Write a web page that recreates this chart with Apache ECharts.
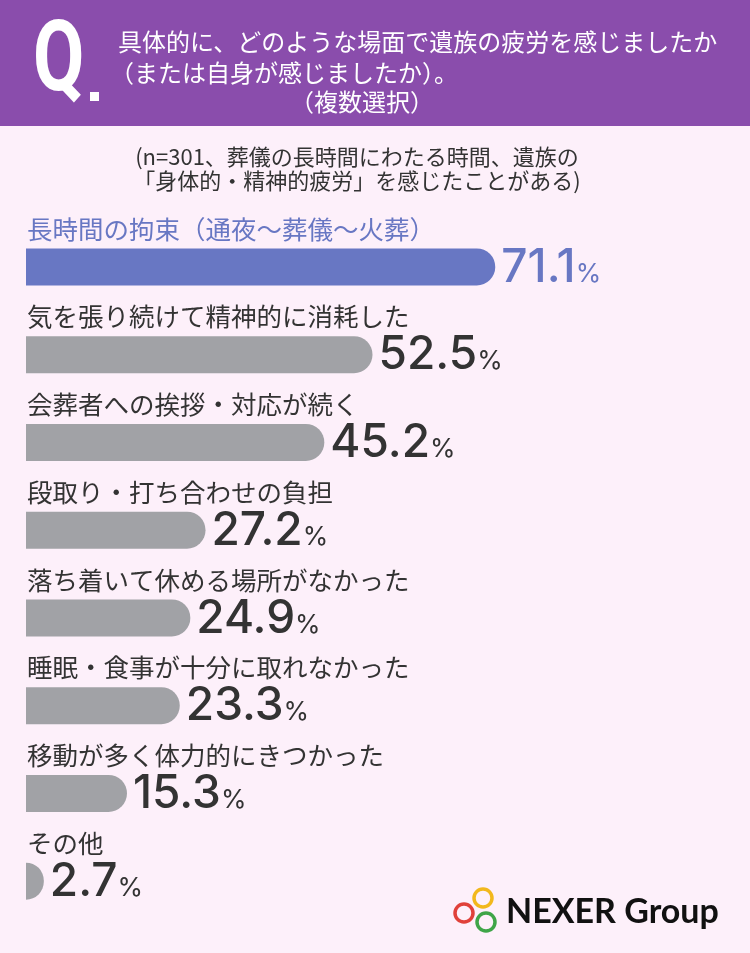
<!DOCTYPE html>
<html><head><meta charset="utf-8">
<script src="https://cdn.jsdelivr.net/npm/echarts@6/dist/echarts.min.js"></script>
<style>html,body{margin:0;padding:0;background:#FDF0FA}#c{width:750px;height:953px}</style>
</head><body><div id="c"></div>
<script>
const categories = [
  '長時間の拘束（通夜～葬儀～火葬）',
  '気を張り続けて精神的に消耗した',
  '会葬者への挨拶・対応が続く',
  '段取り・打ち合わせの負担',
  '落ち着いて休める場所がなかった',
  '睡眠・食事が十分に取れなかった',
  '移動が多く体力的にきつかった',
  'その他'
];
const values = [71.1, 52.5, 45.2, 27.2, 24.9, 23.3, 15.3, 2.7];
const titleLines = ['具体的に、どのような場面で遺族の疲労を感じましたか', '（または自身が感じましたか）。', '（複数選択）'];
const subtitleLines = ['(n=301、葬儀の長時間にわたる時間、遺族の', '「身体的・精神的疲労」を感じたことがある)'];

const BLUE = '#6877C3', GRAY = '#A1A2A6', DARK = '#333333';
const JP = '"Noto Sans CJK JP", sans-serif';
const NUM = 'Inter, Lato, sans-serif';

function numRich(color) {
  return {
    n: {fontFamily: NUM, fontWeight: 500, fontSize: 46, color: color, verticalAlign: 'bottom', lineHeight: 48},
    p: {fontFamily: NUM, fontWeight: 400, fontSize: 26, color: color, verticalAlign: 'bottom', lineHeight: 44, padding: [0, 0, 4, 0]}
  };
}

const chart = echarts.init(document.getElementById('c'), null, {renderer: 'canvas'});
chart.setOption({
  backgroundColor: '#FDF0FA',
  animation: false,
  grid: {left: 26, width: 660, top: 223, height: 702},
  xAxis: {type: 'value', min: 0, max: 100, show: false},
  yAxis: {type: 'category', inverse: true, data: categories, show: false},
  series: [
    {
      type: 'bar', z: 1, silent: true, barWidth: 37, barGap: '-100%',
      data: values.map((v, i) => ({value: v, label: {color: i === 0 ? BLUE : DARK}})),
      itemStyle: {color: 'rgba(0,0,0,0)'},
      label: {
        show: true, position: [1, -19.5], align: 'left', verticalAlign: 'middle',
        fontFamily: JP, fontSize: 25.5,
        formatter: p => p.name
      },
      labelLayout: {hideOverlap: false}
    },
    {
      type: 'bar', z: 2, barWidth: 37, barGap: '-100%',
      data: values.map((v, i) => ({
        value: v,
        itemStyle: {color: i === 0 ? BLUE : GRAY},
        label: {rich: numRich(i === 0 ? BLUE : DARK)}
      })),
      itemStyle: {borderRadius: [0, 18.5, 18.5, 0]},
      label: {
        show: true, position: 'right', distance: 6,
        formatter: p => '{n|' + p.value.toFixed(1) + '}{p|%}'
      }
    }
  ],
  graphic: [
    {type: 'rect', left: 0, top: 0, shape: {width: 750, height: 126}, style: {fill: '#8A4DAC'}, z: 0},
    {type: 'text', x: 33, y: 65, scaleX: 0.76, style: {text: 'Q', fill: '#fff', font: 'bold 98px Roboto', textVerticalAlign: 'middle'}},
    {type: 'rect', shape: {x: 90, y: 92, width: 9, height: 9}, style: {fill: '#fff'}},
    {type: 'text', x: 118, y: 42, style: {text: titleLines[0], fill: '#fff', font: '24px ' + JP, textVerticalAlign: 'middle'}},
    {type: 'text', x: 110, y: 73, style: {text: titleLines[1], fill: '#fff', font: '24px ' + JP, textVerticalAlign: 'middle'}},
    {type: 'text', x: 362, y: 102, style: {text: titleLines[2], fill: '#fff', font: '24px ' + JP, textAlign: 'center', textVerticalAlign: 'middle'}},
    {type: 'text', x: 357, y: 157, style: {text: subtitleLines[0], fill: DARK, font: '22px ' + JP, textAlign: 'center', textVerticalAlign: 'middle'}},
    {type: 'text', x: 357, y: 181, style: {text: subtitleLines[1], fill: DARK, font: '22px ' + JP, textAlign: 'center', textVerticalAlign: 'middle'}},
    {type: 'circle', shape: {cx: 483, cy: 898, r: 9}, style: {fill: 'none', stroke: '#F2B81C', lineWidth: 3.5}},
    {type: 'circle', shape: {cx: 464, cy: 913, r: 9}, style: {fill: 'none', stroke: '#E0413A', lineWidth: 3.5}},
    {type: 'circle', shape: {cx: 486, cy: 922, r: 9}, style: {fill: 'none', stroke: '#3FA548', lineWidth: 3.5}},
    {type: 'text', x: 506, y: 912, style: {text: 'NEXER Group', fill: '#111', font: 'bold 34px Lato', textVerticalAlign: 'middle'}}
  ]
});
</script></body></html>
